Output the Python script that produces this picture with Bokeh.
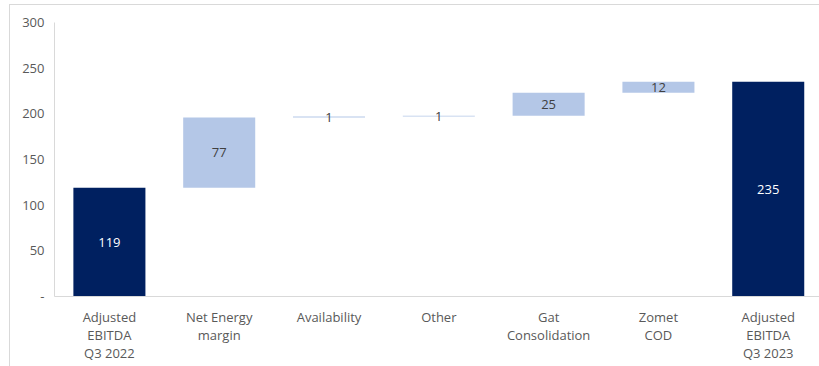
from bokeh.plotting import figure
from bokeh.models import Range1d, FixedTicker, ColumnDataSource
from bokeh.core.properties import value
from bokeh.embed import file_html
from bokeh.resources import INLINE

# Waterfall: Adjusted EBITDA bridge Q3 2022 -> Q3 2023
categories = ["Adjusted\nEBITDA\nQ3 2022", "Net Energy\nmargin", "Availability",
              "Other", "Gat\nConsolidation", "Zomet\nCOD", "Adjusted\nEBITDA\nQ3 2023"]
values = [119, 77, 1, 1, 25, 12, 235]
is_total = [True, False, False, False, False, False, True]
y_ticks = [0, 50, 100, 150, 200, 250, 300]
y_tick_labels = ["-", "50", "100", "150", "200", "250", "300"]

DARK = "#002060"
LIGHT = "#B4C7E7"
FONT = "Open Sans"

# running totals give each step's bottom and top
bottoms, tops = [], []
running = 0
for v, tot in zip(values, is_total):
    if tot:
        bottoms.append(0)
        tops.append(v)
        running = v
    else:
        bottoms.append(running)
        running += v
        tops.append(running)

xs = [i + 0.5 for i in range(len(categories))]
src = ColumnDataSource(dict(
    x=xs, bottom=bottoms, top=tops,
    color=[DARK if t else LIGHT for t in is_total],
    mid=[(b + t) / 2 for b, t in zip(bottoms, tops)],
    label=[str(v) for v in values],
    label_color=["white" if t else "#404040" for t in is_total],
))

p = figure(width=810, height=362, output_backend="svg", toolbar_location=None,
           x_range=Range1d(0, 6.976), y_range=Range1d(0, 300),
           min_border_left=44, min_border_right=0, min_border_top=17,
           min_border_bottom=71)
p.margin = (4, 0, 0, 9)
p.styles = {"border-top": "1px solid #d9d9d9", "border-left": "1px solid #d9d9d9"}

p.vbar(x="x", bottom="bottom", top="top", width=0.656, fill_color="color",
       line_color=None, source=src)
p.text(x="x", y="mid", text="label", text_color="label_color",
       text_align="center", text_baseline="middle", text_font=value(FONT),
       text_font_size="13px", source=src)

p.outline_line_color = None
p.xgrid.grid_line_color = None
p.ygrid.grid_line_color = None
p.background_fill_color = "white"
p.border_fill_color = "white"

p.yaxis.ticker = FixedTicker(ticks=y_ticks)
p.yaxis.major_label_overrides = {t: l for t, l in zip(y_ticks, y_tick_labels)}
p.yaxis.axis_line_color = "#d9d9d9"
p.yaxis.major_tick_line_color = None
p.yaxis.minor_tick_line_color = None
p.yaxis.major_tick_out = 0
p.yaxis.major_label_standoff = 10
p.yaxis.major_label_text_font = FONT
p.yaxis.major_label_text_font_size = "13px"
p.yaxis.major_label_text_color = "#595959"

p.xaxis.ticker = FixedTicker(ticks=xs)
p.xaxis.major_label_overrides = {x: c for x, c in zip(xs, categories)}
p.xaxis.axis_line_color = "#d9d9d9"
p.xaxis.major_tick_line_color = None
p.xaxis.minor_tick_line_color = None
p.xaxis.major_tick_out = 0
p.xaxis.major_label_standoff = 11
p.xaxis.major_label_text_font = FONT
p.xaxis.major_label_text_font_size = "13px"
p.xaxis.major_label_text_line_height = 1.0
p.xaxis.major_label_text_color = "#595959"

open("out.html", "w").write(file_html(p, INLINE))
